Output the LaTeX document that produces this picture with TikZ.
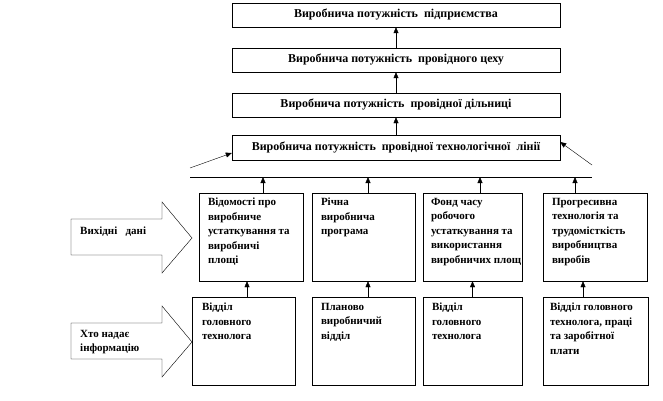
\documentclass[tikz,border=0pt]{standalone}
\usepackage{fontspec}
\setmainfont{Liberation Serif}
\usetikzlibrary{arrows.meta}

\tikzset{
  box/.style={draw,thin,inner sep=0pt},
  txt/.style={anchor=north west,align=left,inner sep=0pt,font=\fontsize{11}{14.5}\selectfont\bfseries},
  arr/.style={thin,-{Triangle[length=6pt,width=5pt]}}
}

\begin{document}
\begin{tikzpicture}[x=1pt,y=-1pt]
\useasboundingbox (0,0) rectangle (663,401);
\def\bigarrow{(0,0) -- (91,0) -- (91,-17) -- (121,19) -- (91,54) -- (91,36) -- (0,36) -- cycle}

% levels of capacity
\node[box,minimum width=328pt,minimum height=24pt] (b1) at (396,15) {\bfseries\fontsize{12}{14}\selectfont Виробнича потужність\ \ підприємства};
\node[box,minimum width=328pt,minimum height=24pt] (b2) at (396,60) {\bfseries\fontsize{12}{14}\selectfont Виробнича потужність\ \ провідного цеху};
\node[box,minimum width=328pt,minimum height=24pt] (b3) at (396,105) {\bfseries\fontsize{12}{14}\selectfont Виробнича потужність\ \ провідної дільниці};
\node[box,minimum width=328pt,minimum height=25pt] (b4) at (396,147.5) {\bfseries\fontsize{12}{14}\selectfont Виробнича потужність\ \ провідної технологічної\ \ лінії};

\draw[arr] (b2.north) -- (b1.south);
\draw[arr] (b3.north) -- (b2.south);
\draw[arr] (b4.north) -- (b3.south);

% bus line
\coordinate (bl) at (190,177);
\coordinate (br) at (592,177);
\coordinate (dl) at (190,168);
\coordinate (dr) at (592,165);
\draw[thin] (bl) -- (br);
\draw[arr] (dl) -- ([yshift=-5.5]b4.west);
\draw[arr] (dr) -- ([yshift=5.5]b4.east);

% input data
\node[box,minimum width=104pt,minimum height=88pt] (ua) at (251,237) {};
\node[box,minimum width=103pt,minimum height=88pt] (ub) at (363.5,237) {};
\node[box,minimum width=99pt,minimum height=88pt] (uc) at (472.5,237) {};
\node[box,minimum width=104pt,minimum height=88pt] (ud) at (595,237) {};
\node[txt] (ta) at ([shift={(9,5)}]ua.north west) {Відомості про\\виробниче\\устаткування та\\виробничі\\площі};
\node[txt] (tb) at ([shift={(9,5)}]ub.north west) {Річна\\виробнича\\програма};
\node[txt] (tc) at ([shift={(8,5)}]uc.north west) {Фонд часу\\робочого\\устаткування та\\використання\\виробничих площ};
\node[txt] (td) at ([shift={(9,5)}]ud.north west) {Прогресивна\\технологія та\\трудомісткість\\виробництва\\виробів};

\draw[arr] ([xshift=12]ua.north) -- ([xshift=12]ua.north |- bl);
\draw[arr] ([xshift=4.5]ub.north) -- ([xshift=4.5]ub.north |- bl);
\draw[arr] ([xshift=7.5]uc.north) -- ([xshift=7.5]uc.north |- bl);
\draw[arr] ([xshift=-20]ud.north) -- ([xshift=-20]ud.north |- bl);

% who gives information
\node[box,minimum width=103pt,minimum height=88pt] (la) at (243.5,341) {};
\node[box,minimum width=103pt,minimum height=88pt] (lb) at (363.5,341) {};
\node[box,minimum width=99pt,minimum height=88pt] (lc) at (472.5,341) {};
\node[box,minimum width=105pt,minimum height=88pt] (ld) at (595.5,341) {};
\node[txt] (sa) at ([shift={(10,6)}]la.north west) {Відділ\\головного\\технолога};
\node[txt] (sb) at ([shift={(9,6)}]lb.north west) {Планово\\виробничий\\відділ};
\node[txt] (sc) at ([shift={(9,6)}]lc.north west) {Відділ\\головного\\технолога};
\node[txt] (sd) at ([shift={(7,6)}]ld.north west) {Відділ головного\\технолога, праці\\та заробітної\\плати};

\draw[arr] ([xshift=3.5]la.north) -- ([xshift=3.5]la.north |- ua.south);
\draw[arr] ([xshift=4.5]lb.north) -- ([xshift=4.5]lb.north |- ub.south);
\draw[arr] (lc.north) -- (lc.north |- uc.south);
\draw[arr] ([xshift=-12.5]ld.north) -- ([xshift=-12.5]ld.north |- ud.south);

% block arrows
\draw[thin,shift={(71,219)}] \bigarrow;
\draw[thin,shift={(71,323)}] \bigarrow;
\node[txt,anchor=west] (ka) at (80,232) {Вихідні\ \ \ дані};
\node[txt,anchor=west] (kb) at (80,342) {Хто надає\\інформацію};
\end{tikzpicture}
\end{document}
